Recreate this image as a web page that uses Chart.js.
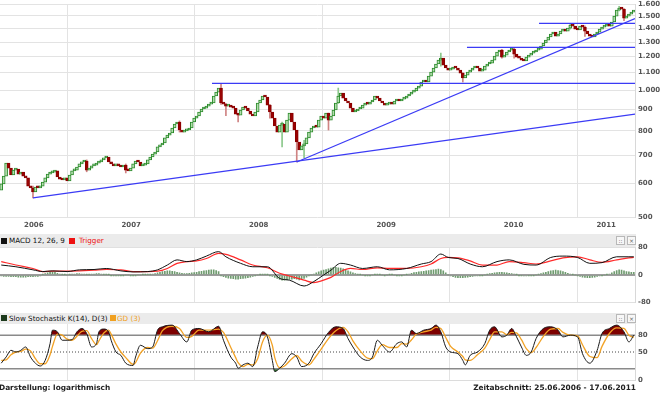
<!DOCTYPE html>
<html>
<head>
<meta charset="utf-8">
<script src="https://cdn.jsdelivr.net/npm/chart.js@4.4.1/dist/chart.umd.min.js"></script>
<style>
  html, body { margin:0; padding:0; background:#fff; }
  body { width:660px; height:393px; position:relative; overflow:hidden; }
  canvas { position:absolute; left:0; }
  .hdr { position:absolute; left:0; width:636px; background:#ebebeb; }
  .sq { position:absolute; width:6px; height:6px; }
  .lbl { position:absolute; font-family:"DejaVu Sans", sans-serif; font-size:7.2px; line-height:9px; white-space:nowrap; }
  .btn { position:absolute; width:7px; height:7px; border:1px solid #b8b8b8; background:#f7f7f7; font:6px "DejaVu Sans"; line-height:7px; text-align:center; color:#666; }
  .foot { position:absolute; top:383px; font-family:"DejaVu Sans", sans-serif; font-weight:bold; font-size:7.4px; line-height:10px; color:#222; white-space:nowrap; }
</style>
</head>
<body>
<canvas id="priceChart" width="660" height="232" style="top:0"></canvas>

<div class="hdr" style="top:234px;height:13px">
  <div class="sq" style="left:1px;top:4px;background:#111"></div>
  <div class="lbl" style="left:9px;top:2px;color:#111">MACD 12, 26, 9</div>
  <div class="sq" style="left:69px;top:4px;background:#ee1111"></div>
  <div class="lbl" style="left:79px;top:2px;color:#ee1111">Trigger</div>
  <div class="btn" style="left:616px;top:2px">::</div>
  <div class="btn" style="left:627px;top:2px">×</div>
</div>
<canvas id="macdChart" width="660" height="70" style="top:240px"></canvas>

<div class="hdr" style="top:313px;height:11px">
  <div class="sq" style="left:1px;top:2px;background:#1c3a1c"></div>
  <div class="lbl" style="left:9px;top:1px;color:#111">Slow Stochastik K(14), D(3)</div>
  <div class="sq" style="left:110px;top:2px;background:#f0a020"></div>
  <div class="lbl" style="left:117px;top:1px;color:#f0a020">GD (3)</div>
  <div class="btn" style="left:616px;top:1px">::</div>
  <div class="btn" style="left:627px;top:1px">×</div>
</div>
<canvas id="stochChart" width="660" height="70" style="top:317px"></canvas>

<div class="foot" style="left:-1px">Darstellung: logarithmisch</div>
<div class="foot" style="right:24px">Zeitabschnitt: 25.06.2006 - 17.06.2011</div>

<script>
// ---------------- DATA ----------------
const periodStart = new Date(2006, 5, 25);
const yearLabels = ['2006', '2007', '2008', '2009', '2010', '2011'];
const priceTicks = [500, 600, 700, 800, 900, 1000, 1100, 1200, 1300, 1400, 1500, 1600];
const macdTicks = [-80, 0, 80];
const stochTicks = [0, 50, 80];
const stochLevels = [20, 50, 80];

// weekly closes (week 0 = 25.06.2006)
const firstOpen = 579;
const closes = [
  599,625,671,653,629,646,650,632,639,625,
  619,592,586,573,589,586,592,605,619,632,
  636,639,643,622,615,612,619,609,629,643,
  646,657,668,675,679,646,653,661,664,671,
  675,683,690,694,675,668,661,668,661,657,
  664,646,643,653,668,679,675,661,664,668,
  683,694,705,713,733,741,749,770,782,791,
  813,831,840,804,795,800,804,813,840,858,
  868,887,902,906,916,926,932,968,989,1011,
  932,926,916,921,911,906,877,872,897,911,
  906,892,877,868,887,932,947,968,963,921,
  887,858,822,795,826,831,795,849,882,840,
  804,753,721,737,745,770,795,813,822,817,
  849,868,858,882,849,868,897,932,968,984,
  957,942,932,906,887,892,902,906,921,932,
  926,937,947,968,957,942,932,921,926,932,
  926,942,947,942,952,957,968,978,989,995,
  1011,1022,1045,1056,1045,1079,1103,1128,1153,1178,
  1191,1146,1128,1115,1121,1134,1128,1115,1097,1068,
  1085,1103,1115,1128,1134,1128,1109,1115,1140,1153,
  1159,1178,1204,1231,1244,1197,1210,1231,1244,1251,
  1217,1197,1191,1178,1172,1197,1210,1224,1231,1244,
  1251,1272,1293,1314,1336,1358,1372,1343,1358,1380,
  1388,1380,1403,1426,1418,1395,1388,1418,1410,1380,
  1358,1343,1336,1358,1372,1395,1410,1418,1426,1418,
  1450,1498,1548,1565,1556,1481,1498,1514,1531,1539
];
// visible wicks: [week, low, high]
const wicks = [
  [13,555,592],[35,640,683],[51,636,668],[73,795,845],[90,925,1035],[92,870,930],
  [97,840,880],[110,858,925],[115,733,840],[121,675,760],[124,690,760],[134,804,882],
  [138,930,1011],[180,1140,1224],[189,1045,1100],[205,1190,1250],[210,1190,1260],
  [233,1395,1440],[239,1340,1420],[253,1540,1580],[255,1460,1560]
];

// trend / resistance lines: [week, price] end points
const trendLines = [
  [[13, 555], [259.5, 877]],
  [[121, 675], [259.5, 1477]],
  [[86.3, 1037], [259.5, 1037]],
  [[190.7, 1263], [259.5, 1263]],
  [[220.2, 1439], [259.5, 1439]]
];

// MACD (sampled weeks)
const macdWeeks = [0,6,13,17,21,27,32,38,43,49,54,60,64,68,72,76,80,84,89,92,98,103,109,114,118,124,128,132,135,139,143,148,154,159,166,172,176,180,183,187,192,197,203,208,214,219,225,230,236,241,246,252,257,259];
const macdValues = [29,24,15,10,12,10,15,16,19,12,9,10,15,29,44,39,44,55,68,53,34,24,24,-10,-15,-32,-19,0,14,34,29,19,24,15,19,32,39,61,51,48,32,24,39,44,31,29,51,55,51,34,36,53,53,53];
const triggerValues = [39,29,19,10,11,11,12,14,16,15,10,10,11,19,34,39,41,48,63,60,44,29,21,5,-3,-15,-22,-15,-7,10,19,16,21,19,19,24,32,48,51,50,41,29,29,39,36,32,41,50,53,44,37,44,50,51];
// weekly histogram
const histogram = [
  -3,-4,-4,-4,-5,-5,-5,-6,-6,-6,-6,-5,-5,-5,-4,-4,-3,
  2,4,6,8,10,8,5,3,2,1,0,
  2,3,3,4,4,3,3,2,2,3,3,4,4,3,2,2,1,
  -1,-2,-2,-2,-1,-1,0,0,-1,-1,-1,0,0,1,1,2,2,3,
  4,6,8,10,11,12,12,11,10,8,6,5,4,4,5,6,7,8,10,11,12,13,14,15,15,13,10,
  -2,-5,-7,-9,-10,-11,-12,-12,-11,-10,-9,-8,-6,-4,-2,
  0,1,2,2,1,-1,
  -4,-7,-10,-13,-15,-15,-14,-13,-12,-11,-12,-14,-13,-10,-6,
  -2,0,3,6,9,12,14,
  16,18,20,22,22,21,20,18,15,12,
  9,6,4,2,1,0,
  -1,-2,-1,0,1,2,1,0,-1,0,1,1,0,-1,-2,-1,0,1,
  3,5,7,8,9,10,11,12,13,14,15,16,17,16,12,
  6,0,-3,-5,-7,-8,-8,-8,-7,-6,-5,-4,-3,-3,-2,
  -1,0,2,4,5,6,7,8,8,7,6,5,4,3,1,
  -1,-2,-3,-3,-2,-2,-1,0,2,4,6,
  8,10,12,13,14,13,12,10,8,5,3,
  1,0,-2,-4,
  -6,-7,-8,-8,-7,-6,-4,-3,-1,
  0,1,3,6,
  10,13,15,14,12,10,9,8,8
];

// Slow stochastic (sampled weeks)
const stochWeeks = [0,2,4,6,8,10,12,14,16,18,20,21,23,25,27,29,31,33,35,37,39,40,42,44,45,47,49,51,54,55,57,60,62,64,66,70,73,76,78,81,85,89,91,94,96,97,99,101,103,105,107,109,111,112,114,116,119,121,123,126,128,131,134,137,140,142,144,147,150,152,154,156,159,162,164,166,168,170,173,176,178,180,182,184,187,189,190,192,195,198,200,202,205,207,209,211,213,215,217,219,222,225,228,230,233,236,238,241,244,246,249,252,255,257,259];
const stochK = [30,41,53,50,53,59,41,30,25,35,65,89,86,71,71,72,86,92,83,59,65,86,91,86,71,50,44,30,26,41,62,56,59,89,95,98,83,68,89,92,86,96,71,41,30,21,27,30,24,59,86,77,35,15,21,30,47,41,24,30,47,65,85,95,92,74,59,41,35,41,71,62,50,65,68,59,89,83,89,92,98,86,59,50,47,35,27,44,50,65,89,95,77,80,92,77,59,44,50,74,92,95,89,77,80,77,47,30,53,83,92,98,86,68,80];
const stochD = [35,36,45,50,51,55,52,38,29,29,45,60,82,80,73,71,78,87,88,74,63,70,84,89,82,64,50,40,28,31,48,58,57,70,88,96,92,76,78,89,89,91,85,58,40,31,24,28,27,38,68,80,62,40,22,25,38,44,34,27,37,55,74,88,94,86,70,52,39,38,52,63,58,58,65,64,72,82,86,89,94,92,76,60,50,42,36,35,45,57,72,86,86,81,85,84,72,56,49,58,78,91,92,85,80,79,63,42,40,60,83,93,92,80,76];

// ---------------- BUILD ----------------
const MS_WEEK = 7 * 24 * 3600 * 1000;
const xMin = -0.5, xMax = closes.length - 0.5;
const yearStarts = yearLabels.slice(1).map(y => (new Date(+y, 0, 1) - periodStart) / MS_WEEK);
const yearCenters = yearLabels.map((y, i) => {
  const a = i === 0 ? xMin : yearStarts[i - 1];
  const b = i < yearStarts.length ? yearStarts[i] : xMax;
  return (a + b) / 2;
});
const opens = [firstOpen].concat(closes.slice(0, -1));
const isUp = i => closes[i] >= opens[i];

const AX_FONT = {family: 'DejaVu Sans', size: 7, weight: 'bold'};
const AX_COLOR = '#555';
const GRID = '#e3e3e3';

function noPad(s) { s.paddingTop = 0; s.paddingBottom = 0; s.paddingLeft = 0; s.paddingRight = 0; }
const fmtDE = v => String(v).replace(/\B(?=(\d{3})+(?!\d))/g, '.');

function gridX() {
  return {
    type: 'linear', position: 'bottom', min: xMin, max: xMax, offset: false,
    afterBuildTicks: s => { s.ticks = yearStarts.map(v => ({value: v})); },
    afterFit: s => { s.height = 0; noPad(s); },
    ticks: {display: false},
    grid: {color: GRID, lineWidth: 1, drawTicks: false, offset: false},
    border: {display: false}
  };
}
function rightY(extra) {
  return Object.assign({
    position: 'right',
    afterFit: s => { s.width = 25; noPad(s); },
    border: {display: true, color: '#d8d8d8'}
  }, extra);
}
const base = {
  responsive: false, animation: false, events: [],
  plugins: {legend: {display: false}, tooltip: {enabled: false}, filler: {drawTime: 'beforeDatasetsDraw'}}
};

// ----- price chart -----
new Chart(document.getElementById('priceChart'), {
  type: 'bar',
  data: {
    datasets: [
      {
        type: 'bar',
        data: closes.map((c, i) => ({x: i, y: [opens[i], c]})),
        backgroundColor: ctx => isUp(ctx.dataIndex) ? '#b2ddad' : '#9a0000',
        borderColor: ctx => isUp(ctx.dataIndex) ? '#2b8a2b' : '#8a0000',
        borderWidth: 1, borderSkipped: false, barThickness: 3, minBarLength: 2,
        order: 1
      },
      {
        type: 'bar',
        data: wicks.map(w => ({x: w[0], y: [w[1], w[2]]})),
        backgroundColor: ctx => isUp(wicks[ctx.dataIndex][0]) ? '#8cc88c' : '#cf8383',
        borderWidth: 0, barThickness: 1, grouped: false, order: 2
      },
      ...trendLines.map(l => ({
        type: 'line',
        data: l.map(p => ({x: p[0], y: p[1]})),
        borderColor: '#3b3bf5', borderWidth: 1.2, pointRadius: 0, order: 0
      }))
    ]
  },
  options: Object.assign({}, base, {
    layout: {padding: {top: 4, left: 0, right: 0, bottom: 0}},
    scales: {
      x: gridX(),
      x2: {
        type: 'linear', position: 'bottom', min: xMin, max: xMax, offset: false,
        afterBuildTicks: s => { s.ticks = yearCenters.map(v => ({value: v})); },
        afterFit: s => { s.height = 15; noPad(s); },
        ticks: {autoSkip: false, maxRotation: 0, padding: 4, font: AX_FONT, color: AX_COLOR,
                callback: (v, i) => yearLabels[i]},
        grid: {display: false, drawTicks: false},
        border: {display: false}
      },
      y: rightY({
        type: 'logarithmic', min: 500, max: 1600,
        afterBuildTicks: s => { s.ticks = priceTicks.map(v => ({value: v})); },
        ticks: {autoSkip: false, padding: 3, font: AX_FONT, color: AX_COLOR, callback: v => fmtDE(v)},
        grid: {color: GRID, drawTicks: false}
      })
    }
  })
});

// ----- MACD chart -----
new Chart(document.getElementById('macdChart'), {
  type: 'bar',
  data: {
    datasets: [
      {type: 'line', data: macdWeeks.map((w, i) => ({x: w, y: macdValues[i]})),
       borderColor: '#111', borderWidth: 1, pointRadius: 0, cubicInterpolationMode: 'monotone', order: 0},
      {type: 'line', data: macdWeeks.map((w, i) => ({x: w, y: triggerValues[i]})),
       borderColor: '#ff2a2a', borderWidth: 1.2, pointRadius: 0, cubicInterpolationMode: 'monotone', order: 1},
      {type: 'bar', data: histogram.map((v, i) => ({x: i, y: v})),
       backgroundColor: '#6f9b6f', borderWidth: 0, barThickness: 1, order: 2}
    ]
  },
  options: Object.assign({}, base, {
    layout: {padding: {top: 7.5, bottom: 7.5, left: 0, right: 0}},
    scales: {
      x: gridX(),
      y: rightY({
        type: 'linear', min: -80, max: 80,
        afterBuildTicks: s => { s.ticks = macdTicks.map(v => ({value: v})); },
        ticks: {autoSkip: false, padding: 3, font: AX_FONT, color: AX_COLOR},
        grid: {
          color: c => (c.tick && c.tick.value === 0) ? '#9c9c9c' : '#e0e0e0',
          lineWidth: c => (c.tick && c.tick.value === 0) ? 2 : 1,
          drawTicks: false
        }
      })
    }
  })
});

// ----- Stochastic chart -----
const kPts = stochWeeks.map((w, i) => ({x: w, y: stochK[i]}));
const dPts = stochWeeks.map((w, i) => ({x: w, y: stochD[i]}));
new Chart(document.getElementById('stochChart'), {
  type: 'bar',
  data: {
    datasets: [
      {type: 'line', data: kPts, borderColor: '#1a1a1a', borderWidth: 1, pointRadius: 0,
       cubicInterpolationMode: 'monotone',
       fill: {target: {value: 80}, above: '#7d0000', below: 'rgba(0,0,0,0)'}, order: 0},
      {type: 'line', data: dPts, borderColor: '#f2a225', borderWidth: 1.3, pointRadius: 0,
       cubicInterpolationMode: 'monotone', order: 1},
      {type: 'line', data: kPts, borderWidth: 0, borderColor: 'rgba(0,0,0,0)', pointRadius: 0,
       cubicInterpolationMode: 'monotone',
       fill: {target: {value: 20}, above: 'rgba(0,0,0,0)', below: '#2a7a2a'}, order: 5},
      ...stochLevels.map(v => ({
        type: 'line', data: [{x: xMin, y: v}, {x: xMax, y: v}],
        borderColor: v === 50 ? '#444' : '#8a8a8a', borderWidth: v === 50 ? 1 : 1.5,
        borderDash: v === 50 ? [1, 2] : [], pointRadius: 0, order: 2
      }))
    ]
  },
  options: Object.assign({}, base, {
    layout: {padding: {top: 7, bottom: 7, left: 0, right: 0}},
    scales: {
      x: gridX(),
      y: rightY({
        type: 'linear', min: 0, max: 100,
        afterBuildTicks: s => { s.ticks = stochTicks.map(v => ({value: v})); },
        ticks: {autoSkip: false, padding: 3, font: AX_FONT, color: AX_COLOR},
        grid: {color: c => (c.tick && c.tick.value === 0) ? '#dcdcdc' : 'rgba(0,0,0,0)', drawTicks: false}
      })
    }
  })
});
</script>
</body>
</html>
